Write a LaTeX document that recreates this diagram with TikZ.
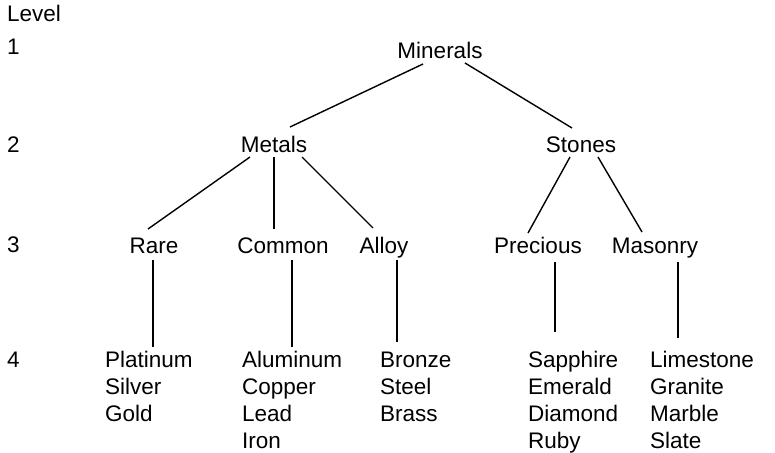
\documentclass[tikz,border=0pt]{standalone}
\usepackage{fontspec}
\setmainfont{Liberation Sans}
\begin{document}
\begin{tikzpicture}[x=1pt,y=-1pt,
  lbl/.style={inner sep=0pt,anchor=base,font=\fontsize{22.5}{27}\selectfont},
  lvl/.style={inner sep=0pt,anchor=base west,font=\fontsize{22.5}{27}\selectfont},
  lst/.style={inner sep=0pt,anchor=base west,font=\fontsize{22.5}{27}\selectfont},
  edge/.style={line width=1.4pt,black}]
\useasboundingbox (0,0) rectangle (775,452);
% level column
\node[lvl] (lvhead) at (7,22) {Level};
\node[lvl] (lv1) at (7,55) {1};
\node[lvl] (lv2) at (7,152) {2};
\node[lvl] (lv3) at (7,252) {3};
\node[lvl] (lv4) at (7,367) {4};
% tree
\node[lbl] (minerals) at (440,58) {Minerals};
\node[lbl] (metals) at (274,152) {Metals};
\node[lbl] (stones) at (581,152) {Stones};
\node[lbl] (rare) at (154,253) {Rare};
\node[lbl] (common) at (283,253) {Common};
\node[lbl] (alloy) at (384,253) {Alloy};
\node[lbl] (precious) at (538,253) {Precious};
\node[lbl] (masonry) at (655,253) {Masonry};
\node[lst] (rarel) at (105,367) {\begin{tabular}[t]{@{}l@{}}Platinum\\Silver\\Gold\end{tabular}};
\node[lst] (commonl) at (242,367) {\begin{tabular}[t]{@{}l@{}}Aluminum\\Copper\\Lead\\Iron\end{tabular}};
\node[lst] (alloyl) at (380,367) {\begin{tabular}[t]{@{}l@{}}Bronze\\Steel\\Brass\end{tabular}};
\node[lst] (preciousl) at (528,367) {\begin{tabular}[t]{@{}l@{}}Sapphire\\Emerald\\Diamond\\Ruby\end{tabular}};
\node[lst] (masonryl) at (650,367) {\begin{tabular}[t]{@{}l@{}}Limestone\\Granite\\Marble\\Slate\end{tabular}};
% connectors
\draw[edge] ([shift={(-17,6)}]minerals.base) -- ([shift={(16,-25)}]metals.base);
\draw[edge] ([shift={(25,5)}]minerals.base) -- ([shift={(-9,-24)}]stones.base);
\draw[edge] ([shift={(-24,5)}]metals.base) -- ([shift={(-6,-24)}]rare.base);
\draw[edge] ([shift={(0,5)}]metals.base) -- ([shift={(-9,-24)}]common.base);
\draw[edge] ([shift={(28,5)}]metals.base) -- ([shift={(-11,-25)}]alloy.base);
\draw[edge] ([shift={(-11,5)}]stones.base) -- ([shift={(-10,-20)}]precious.base);
\draw[edge] ([shift={(17,5)}]stones.base) -- ([shift={(-13,-21)}]masonry.base);
\draw[edge] ([shift={(-1,7)}]rare.base) -- ([shift={(48,-20)}]rarel.base west);
\draw[edge] ([shift={(9,7)}]common.base) -- ([shift={(50,-20)}]commonl.base west);
\draw[edge] ([shift={(13,7)}]alloy.base) -- ([shift={(17,-25)}]alloyl.base west);
\draw[edge] ([shift={(17,9)}]precious.base) -- ([shift={(27,-35)}]preciousl.base west);
\draw[edge] ([shift={(23,9)}]masonry.base) -- ([shift={(28,-29)}]masonryl.base west);
\end{tikzpicture}
\end{document}
